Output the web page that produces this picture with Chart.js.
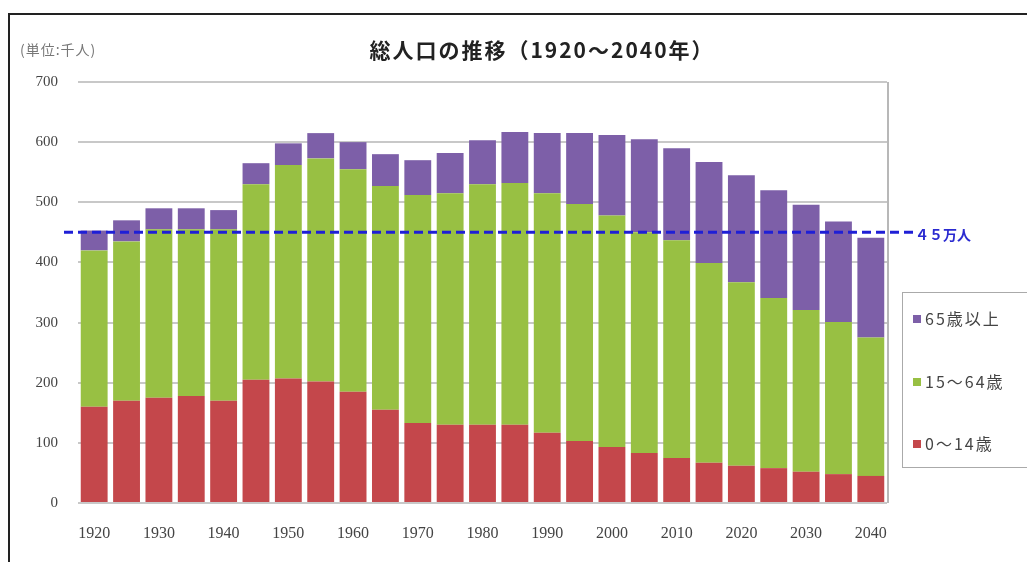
<!DOCTYPE html>
<html>
<head>
<meta charset="utf-8">
<script src="https://cdn.jsdelivr.net/npm/chart.js@4.4.0/dist/chart.umd.min.js"></script>
<style>
  html, body { margin: 0; padding: 0; background: #fff; }
  #wrap { position: relative; width: 1027px; height: 562px; overflow: hidden; }
  #popChart { display: block; }
  #frame { position: absolute; left: 8px; top: 13px; right: -5px; bottom: -5px;
           border-top: 2px solid #222; border-left: 2px solid #222; }
  #legend { position: absolute; left: 902px; top: 292px; width: 140px; height: 176px;
            border: 1px solid #aaa; box-sizing: border-box;
            font-family: "Noto Sans CJK JP", sans-serif; font-size: 16px; color: #444;
            letter-spacing: 2px; }
  #legend div { position: absolute; left: 10px; height: 20px; line-height: 20px; white-space: nowrap; }
  #legend span { display: inline-block; width: 8px; height: 8px; margin-right: 4px; vertical-align: 2px; }
</style>
</head>
<body>
<div id="wrap">
  <canvas id="popChart" width="1027" height="562"></canvas>
  <div id="frame"></div>
  <div id="legend"></div>
</div>
<script>
// 年次（5年ごと）
const years = ['1920','1925','1930','1935','1940','1945','1950','1955','1960','1965',
               '1970','1975','1980','1985','1990','1995','2000','2005','2010','2015',
               '2020','2025','2030','2035','2040'];

// 0～14歳（千人）
const young = [160,170,175,178,170,205,207,202,185,155,
               133,130,130,130,117,103,93,83,75,67,
               62,58,52,48,45];

// 15～64歳（千人）
const working = [260,265,280,277,285,325,355,371,370,372,
                 379,385,400,402,398,394,385,367,362,332,
                 305,283,269,253,230];

// 65歳以上（千人）
const elderly = [33,35,35,35,32,35,36,42,45,53,
                 58,67,73,85,100,118,134,155,153,168,
                 178,179,175,167,166];

const yTicks = [0,100,200,300,400,500,600,700];
const refValue = 450;
const refLabel = '４５万人';
const titleText = '総人口の推移（1920～2040年）';
const unitText = '(単位:千人)';

const colors = { young: '#c4474b', working: '#98c043', elderly: '#7d5fa8' };

// タイトル・単位表示、破線（45万人）、右枠線
const extras = {
  id: 'extras',
  afterDatasetsDraw(chart) {
    const { ctx, chartArea, scales } = chart;
    ctx.save();
    ctx.strokeStyle = '#b8b8b8';
    ctx.lineWidth = 2;
    ctx.beginPath();
    ctx.moveTo(chartArea.right + 1, chartArea.top);
    ctx.lineTo(chartArea.right + 1, chartArea.bottom);
    ctx.stroke();

    const y = scales.y.getPixelForValue(refValue);
    ctx.strokeStyle = '#1f1fd6';
    ctx.lineWidth = 3;
    ctx.setLineDash([9, 5]);
    ctx.beginPath();
    ctx.moveTo(chartArea.left - 14, y);
    ctx.lineTo(chartArea.right + 26, y);
    ctx.stroke();
    ctx.setLineDash([]);
    ctx.fillStyle = '#2a2ad0';
    ctx.font = 'bold 14px "Noto Sans CJK JP"';
    ctx.textBaseline = 'middle';
    ctx.fillText(refLabel, chartArea.right + 28, y + 2);

    ctx.fillStyle = '#222';
    ctx.font = 'bold 21px "Noto Sans CJK JP"';
    ctx.letterSpacing = '2px';
    ctx.textAlign = 'center';
    ctx.fillText(titleText, 542, 50);

    ctx.fillStyle = '#777';
    ctx.font = '14px "Noto Sans CJK JP"';
    ctx.letterSpacing = '1px';
    ctx.textAlign = 'left';
    ctx.fillText(unitText, 20, 50);
    ctx.restore();
  }
};

const ctx = document.getElementById('popChart');

const chart = new Chart(ctx, {
  type: 'bar',
  data: {
    labels: years,
    datasets: [
      { label: '0～14歳', data: young, backgroundColor: colors.young },
      { label: '15～64歳', data: working, backgroundColor: colors.working },
      { label: '65歳以上', data: elderly, backgroundColor: colors.elderly }
    ]
  },
  options: {
    responsive: false,
    animation: false,
    layout: { padding: { left: 0, right: 140, top: 82, bottom: 20 } },
    datasets: { bar: { categoryPercentage: 1, barPercentage: 0.83 } },
    plugins: {
      legend: { display: false },
      tooltip: { enabled: false },
      title: { display: false }
    },
    scales: {
      x: {
        stacked: true,
        afterFit: (s) => { s.height = 39; },
        grid: { display: false, drawTicks: false },
        border: { display: false },
        ticks: {
          color: '#444',
          padding: 21,
          maxRotation: 0,
          autoSkip: false,
          font: { family: '"Liberation Serif"', size: 16 },
          callback: (v, i) => (i % 2 === 0 ? years[i] : '')
        }
      },
      y: {
        stacked: true,
        min: 0,
        max: 700,
        afterFit: (s) => { s.width = 78; },
        afterBuildTicks: (s) => { s.ticks = yTicks.map(v => ({ value: v })); },
        grid: { color: '#c8c8c8', lineWidth: 2, drawTicks: false },
        border: { display: false },
        ticks: {
          color: '#444',
          padding: 20,
          font: { family: '"Liberation Serif"', size: 15 }
        }
      }
    }
  },
  plugins: [extras]
});

// 凡例（上から65歳以上、15～64歳、0～14歳）
const legendBox = document.getElementById('legend');
const order = [2, 1, 0];
const tops = [15, 78, 140];
order.forEach((di, k) => {
  const ds = chart.data.datasets[di];
  const item = document.createElement('div');
  item.style.top = tops[k] + 'px';
  item.innerHTML = '<span style="background:' + ds.backgroundColor + '"></span>' + ds.label;
  legendBox.appendChild(item);
});
</script>
</body>
</html>
